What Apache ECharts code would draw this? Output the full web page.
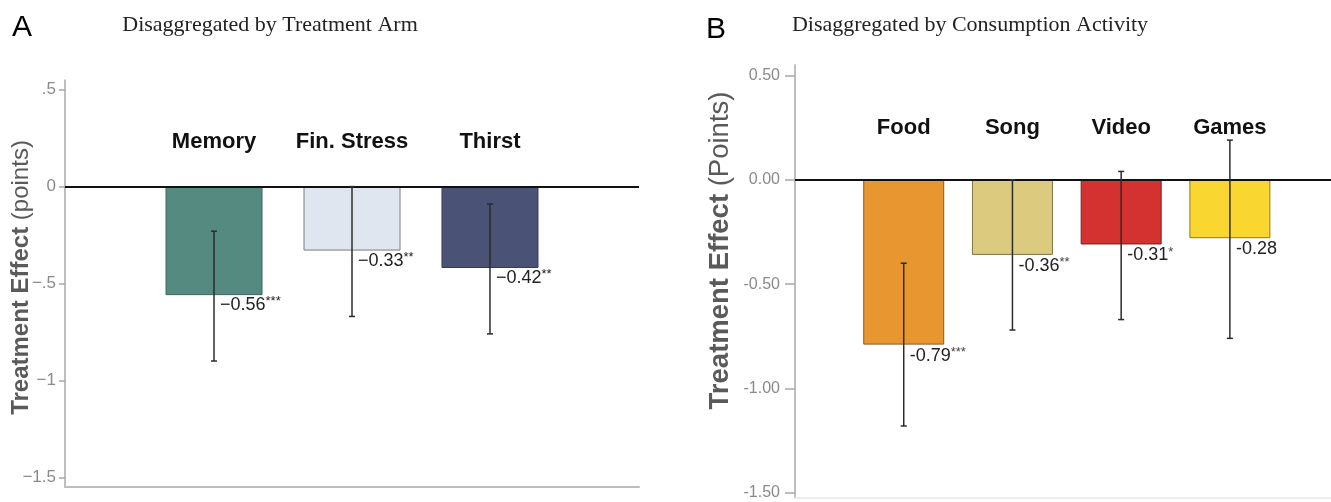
<!DOCTYPE html>
<html>
<head>
<meta charset="utf-8">
<script src="https://cdn.jsdelivr.net/npm/echarts@6/dist/echarts.min.js"></script>
<style>
  html, body { margin: 0; padding: 0; background: #fff; }
  #chart { width: 1331px; height: 502px; }
</style>
</head>
<body>
<div id="chart"></div>
<script>
  // panel A: by treatment arm
  const armNames = ['Memory', 'Fin. Stress', 'Thirst'];
  const armEffects = [-0.56, -0.33, -0.42];
  const armCiLow = [-0.90, -0.67, -0.76];
  const armCiHigh = [-0.23, 0.00, -0.09];
  const armStars = ['***', '**', '**'];
  const armTicks = [0.5, 0, -0.5, -1, -1.5];
  const armTickLabels = ['.5', '0', '\u2212.5', '\u22121', '\u22121.5'];

  // panel B: by consumption activity
  const actNames = ['Food', 'Song', 'Video', 'Games'];
  const actEffects = [-0.79, -0.36, -0.31, -0.28];
  const actCiLow = [-1.18, -0.72, -0.67, -0.76];
  const actCiHigh = [-0.40, 0.00, 0.04, 0.19];
  const actStars = ['***', '**', '*', ''];
  const actTicks = [0.5, 0, -0.5, -1, -1.5];
  const actTickLabels = ['0.50', '0.00', '-0.50', '-1.00', '-1.50'];

  // styles
  const armColors = ['#558a80', '#dfe6ef', '#4a5375'];
  const armBorders = ['#3f655e', '#7a7a7a', '#353c58'];
  const actColors = ['#e8962f', '#dccb7e', '#d43131', '#f9d630'];
  const actBorders = ['#8a5a1c', '#7d7446', '#7a1f1f', '#8f7b1c'];

  const sans = 'Liberation Sans, Arial, Helvetica, sans-serif';
  const serif = 'Liberation Serif, Times New Roman, serif';

  let myChart = echarts.init(document.getElementById('chart'));

  function tickFormatter(ticks, labels) {
    return function (v) {
      let i = ticks.findIndex(t => Math.abs(t - v) < 1e-9);
      return i >= 0 ? labels[i] : '';
    };
  }

  function yAxisOf(gridIndex, min, max, ticks, labels, name, labelSize, nameSize, nameGap, namePad, tickLen, labelMargin) {
    return {
      type: 'value',
      gridIndex: gridIndex,
      min: min,
      max: max,
      name: name,
      nameLocation: 'middle',
      nameRotate: 90,
      nameGap: nameGap,
      nameMoveOverlap: false,
      nameTextStyle: {
        padding: namePad,
        rich: {
          b: { fontFamily: sans, fontWeight: 'bold', fontSize: nameSize, color: '#5a5a5a' },
          r: { fontFamily: sans, fontSize: nameSize, color: '#5a5a5a' }
        }
      },
      axisLine: { show: true, onZero: false, lineStyle: { color: '#a8a8a8', width: 1.5 } },
      axisTick: { show: true, length: tickLen, customValues: ticks, lineStyle: { color: '#a8a8a8', width: 1.5 } },
      axisLabel: {
        customValues: ticks,
        formatter: tickFormatter(ticks, labels),
        color: '#8a8a8a',
        fontFamily: sans,
        fontSize: labelSize,
        margin: labelMargin
      },
      splitLine: { show: false }
    };
  }

  function xAxisOf(gridIndex, min, max, lineColor) {
    return {
      type: 'value',
      gridIndex: gridIndex,
      min: min,
      max: max,
      axisLine: { show: true, onZero: false, lineStyle: { color: lineColor, width: 2 } },
      axisTick: { show: false },
      axisLabel: { show: false },
      splitLine: { show: false }
    };
  }

  function barSeries(axisIndex, effects, colors, borders, width) {
    return {
      type: 'bar',
      xAxisIndex: axisIndex,
      yAxisIndex: axisIndex,
      barWidth: width,
      data: effects.map((v, i) => ({
        value: [i + 1, v],
        itemStyle: { color: colors[i], borderColor: borders[i], borderWidth: 1 }
      })),
      markLine: {
        silent: true,
        symbol: ['none', 'none'],
        label: { show: false },
        lineStyle: { color: '#111', width: 2, type: 'solid' },
        data: [{ yAxis: 0 }]
      },
      z: 2
    };
  }

  // error bars, value labels, category names
  function errorSeries(axisIndex, names, effects, lows, highs, stars, opt) {
    return {
      type: 'custom',
      xAxisIndex: axisIndex,
      yAxisIndex: axisIndex,
      clip: false,
      z: 5,
      data: effects.map((v, i) => [i + 1, lows[i], highs[i], v, i]),
      renderItem: function (params, api) {
        let x = api.value(0);
        let i = api.value(4);
        let lo = api.coord([x, api.value(1)]);
        let hi = api.coord([x, api.value(2)]);
        let bar = api.coord([x, api.value(3)]);
        let zero = api.coord([x, 0]);
        let cap = 3;
        let ls = { stroke: '#2b2b2b', lineWidth: 1.5 };
        let valText = opt.fmt(effects[i]);
        return {
          type: 'group',
          children: [
            { type: 'line', shape: { x1: lo[0], y1: lo[1], x2: hi[0], y2: hi[1] }, style: ls },
            { type: 'line', shape: { x1: lo[0] - cap, y1: lo[1], x2: lo[0] + cap, y2: lo[1] }, style: ls },
            { type: 'line', shape: { x1: hi[0] - cap, y1: hi[1], x2: hi[0] + cap, y2: hi[1] }, style: ls },
            {
              type: 'text',
              style: {
                x: bar[0] + 6,
                y: bar[1] + opt.labelDy,
                text: '{n|' + valText + '}' + (stars[i] ? '{s|' + stars[i] + '}' : ''),
                fill: '#222',
                align: 'left',
                verticalAlign: 'middle',
                rich: {
                  n: { fontFamily: sans, fontSize: opt.valSize, fill: '#222', lineHeight: opt.valSize + 2 },
                  s: { fontFamily: sans, fontSize: 13, fill: opt.starColor, verticalAlign: 'top', lineHeight: 13 }
                }
              }
            },
            {
              type: 'text',
              style: {
                x: zero[0],
                y: zero[1] - opt.nameDy,
                text: names[i],
                fill: '#111',
                fontFamily: sans,
                fontWeight: 'bold',
                fontSize: 22,
                align: 'center',
                verticalAlign: 'middle'
              }
            }
          ]
        };
      }
    };
  }

  let option = {
    animation: false,
    backgroundColor: '#fff',
    graphic: [
      { type: 'text', x: 12, y: 28, style: { text: 'A', fontFamily: sans, fontSize: 30, fill: '#000', verticalAlign: 'middle' } },
      { type: 'text', x: 706, y: 30, style: { text: 'B', fontFamily: sans, fontSize: 30, fill: '#000', verticalAlign: 'middle' } },
      { type: 'text', x: 270, y: 25, style: { text: 'Disaggregated by Treatment Arm', fontFamily: serif, fontSize: 22, fill: '#222', align: 'center', verticalAlign: 'middle' } },
      { type: 'text', x: 970, y: 25, style: { text: 'Disaggregated by Consumption Activity', fontFamily: serif, fontSize: 22, fill: '#222', align: 'center', verticalAlign: 'middle' } }
    ],
    grid: [
      { left: 65, top: 80, width: 574, height: 407, outerBoundsMode: 'none' },
      { left: 795, top: 65, width: 536, height: 433, outerBoundsMode: 'none' }
    ],
    xAxis: [
      xAxisOf(0, -0.08, 4.08, '#bdbdbd'),
      xAxisOf(1, 0, 4.93, '#ececec')
    ],
    yAxis: [
      yAxisOf(0, -1.55, 0.55, armTicks, armTickLabels, '{b|Treatment Effect}{r| (points)}', 17, 24, 32, [0, 0, 0, 12], 6, 9),
      yAxisOf(1, -1.525, 0.55, actTicks, actTickLabels, '{b|Treatment Effect}{r| (Points)}', 16, 27.5, 61, [0, 0, 0, 62], 10, 15)
    ],
    series: [
      barSeries(0, armEffects, armColors, armBorders, 97),
      barSeries(1, actEffects, actColors, actBorders, 81),
      errorSeries(0, armNames, armEffects, armCiLow, armCiHigh, armStars, {
        fmt: v => '\u2212' + Math.abs(v).toFixed(2), labelDy: 10, nameDy: 45, valSize: 18, starColor: '#222'
      }),
      errorSeries(1, actNames, actEffects, actCiLow, actCiHigh, actStars, {
        fmt: v => v.toFixed(2), labelDy: 11, nameDy: 52, valSize: 18, starColor: '#444'
      })
    ]
  };

  myChart.setOption(option);
  window.addEventListener('resize', () => {
    myChart.resize();
  });
</script>
</body>
</html>
